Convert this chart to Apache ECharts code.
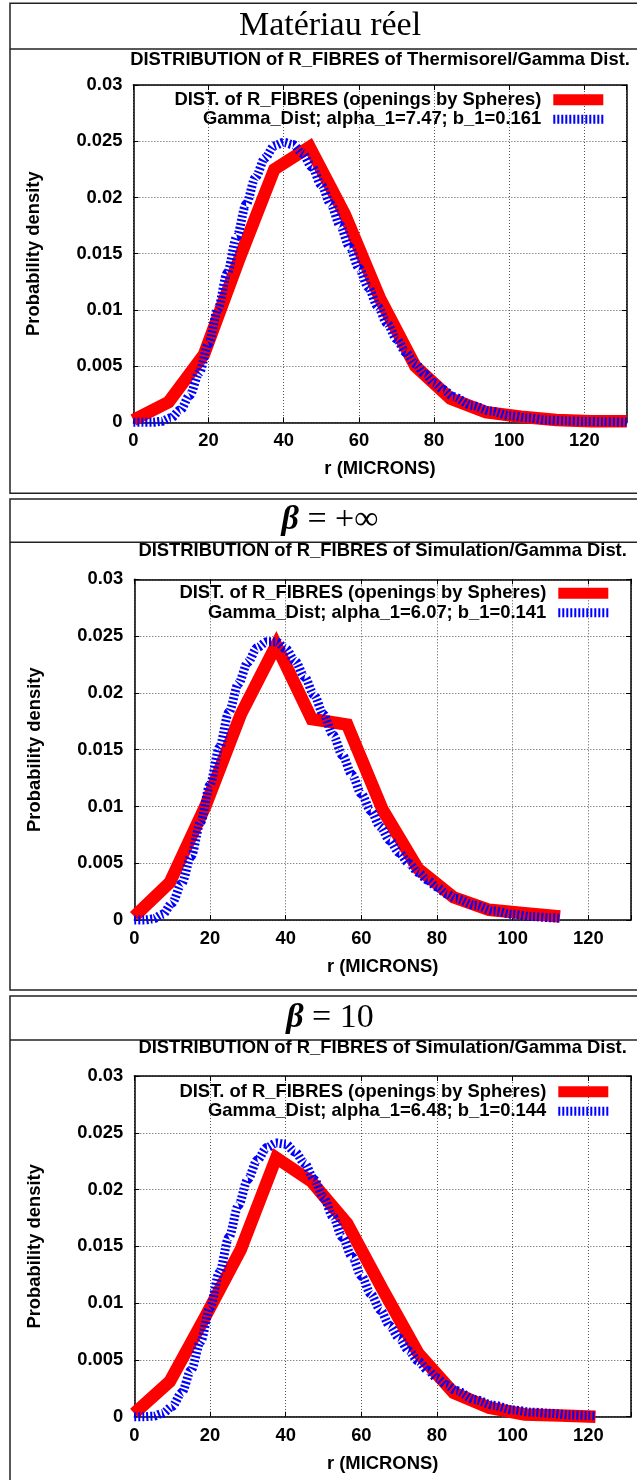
<!DOCTYPE html>
<html><head><meta charset="utf-8">
<script src="https://cdn.jsdelivr.net/npm/echarts@6/dist/echarts.min.js"></script>
<style>html,body{margin:0;padding:0;background:#fff}#c{width:637px;height:1480px}</style>
</head><body><div id="c"></div>
<script>
// ---------- data ----------
const panelTitles = ['Matériau réel', '{b|β} = +∞', '{b|β} = 10'];
const subTitles = [
  'DISTRIBUTION of R_FIBRES of Thermisorel/Gamma Dist.',
  'DISTRIBUTION of R_FIBRES of Simulation/Gamma Dist.',
  'DISTRIBUTION of R_FIBRES of Simulation/Gamma Dist.'
];
const redName = 'DIST. of R_FIBRES (openings by Spheres)';
const blueNames = [
  'Gamma_Dist; alpha_1=7.47; b_1=0.161',
  'Gamma_Dist; alpha_1=6.07; b_1=0.141',
  'Gamma_Dist; alpha_1=6.48; b_1=0.144'
];
const xName = 'r (MICRONS)';
const yName = 'Probability density';
const xTicks = [0, 20, 40, 60, 80, 100, 120];
const yTicks = [0, 0.005, 0.01, 0.015, 0.02, 0.025, 0.03];
const xMax = 131.25;

// measured distribution (red), sampled radii
const rHist = [0, 9.375, 18.75, 28.125, 37.5, 46.875, 56.25, 65.625, 75, 84.375, 93.75, 103.125, 112.5, 121.875, 131.25];
const hist1 = [0.0002, 0.0018, 0.0060, 0.0145, 0.0225, 0.0245, 0.0185, 0.0110, 0.0050, 0.0021, 0.0009, 0.0005, 0.0002, 0.0001, 0.0001];
const hist2 = [0.0003, 0.0033, 0.0100, 0.0181, 0.0242, 0.0177, 0.0172, 0.0097, 0.0045, 0.0020, 0.0009, 0.0006, 0.0003];
const hist3 = [0.0003, 0.0031, 0.0088, 0.0147, 0.0228, 0.0207, 0.0170, 0.0112, 0.0056, 0.0021, 0.0008, 0.0002, 0.0001, 0.0000];

// fitted gamma curves (blue)
const rGamma1 = [0, 2.5, 5, 7.5, 10, 12.5, 15, 17.5, 20, 22.5, 25, 27.5, 30, 32.5, 35, 37.5, 40, 42.5, 45, 47.5, 50, 52.5, 55, 57.5, 60, 62.5, 65, 67.5, 70, 72.5, 75, 77.5, 80, 82.5, 85, 90, 95, 100, 105, 110, 115, 120, 125, 131.25];
const gamma1 = [0, 0, 0.00001, 0.00009, 0.0004, 0.0011, 0.0024, 0.0044, 0.0070, 0.0101, 0.0133, 0.0165, 0.0194, 0.0218, 0.0235, 0.0246, 0.0249, 0.0247, 0.0239, 0.0227, 0.0211, 0.0194, 0.0175, 0.0156, 0.0137, 0.0120, 0.0103, 0.0088, 0.0074, 0.0062, 0.0052, 0.0043, 0.0035, 0.0029, 0.0023, 0.0015, 0.0010, 0.0006, 0.0004, 0.0002, 0.00013, 0.00008, 0.00005, 0.00002];
const rGamma2 = [0, 2.5, 5, 7.5, 10, 12.5, 15, 17.5, 20, 22.5, 25, 27.5, 30, 32.5, 35, 37.5, 40, 42.5, 45, 47.5, 50, 52.5, 55, 57.5, 60, 62.5, 65, 67.5, 70, 72.5, 75, 77.5, 80, 82.5, 85, 90, 95, 100, 105, 110, 112.5];
const gamma2 = [0, 0, 0.0001, 0.0005, 0.0015, 0.0032, 0.0056, 0.0086, 0.0119, 0.0152, 0.0183, 0.0208, 0.0227, 0.0240, 0.0245, 0.0245, 0.0239, 0.0228, 0.0214, 0.0198, 0.0181, 0.0163, 0.0145, 0.0128, 0.0111, 0.0096, 0.0082, 0.0070, 0.0059, 0.0050, 0.0042, 0.0035, 0.0029, 0.0023, 0.0019, 0.0013, 0.0008, 0.0005, 0.0003, 0.0002, 0.00016];
const rGamma3 = [0, 2.5, 5, 7.5, 10, 12.5, 15, 17.5, 20, 22.5, 25, 27.5, 30, 32.5, 35, 37.5, 40, 42.5, 45, 47.5, 50, 52.5, 55, 57.5, 60, 62.5, 65, 67.5, 70, 72.5, 75, 77.5, 80, 82.5, 85, 90, 95, 100, 105, 110, 115, 120, 121.875];
const gamma3 = [0, 0, 0.00004, 0.0003, 0.0009, 0.0021, 0.0041, 0.0066, 0.0096, 0.0127, 0.0158, 0.0186, 0.0209, 0.0226, 0.0237, 0.0241, 0.0240, 0.0233, 0.0223, 0.0209, 0.0193, 0.0176, 0.0158, 0.0141, 0.0124, 0.0108, 0.0094, 0.0080, 0.0069, 0.0058, 0.0049, 0.0041, 0.0034, 0.0028, 0.0023, 0.0015, 0.0010, 0.0006, 0.0004, 0.0003, 0.00015, 0.0001, 0.00008];

// ---------- layout / style ----------
const FONT = 'Liberation Sans';
const FS = 18.4;
const txt = {fontFamily: FONT, fontWeight: 'bold', fontSize: FS, color: '#000'};
const grids = [
  {left: 133.4, top: 85, width: 493.3, height: 337.3},
  {left: 134.3, top: 579.3, width: 496.7, height: 340.7},
  {left: 134.3, top: 1076, width: 496.7, height: 340.7}
];
const boxes = [
  {y0: 3.3, y1: 493.3, line: 49, tY: 26.5},
  {y0: 499, y1: 990, line: 542.3, tY: 520.5},
  {y0: 996, y1: 1490, line: 1040, tY: 1018}
];
const subY = [59.7, 551, 1047.5];
const legendPos = [{right: 33.7, top: 90}, {right: 28.7, top: 583.5}, {right: 28.7, top: 1082}];
const hists = [hist1, hist2, hist3];
const rGammas = [rGamma1, rGamma2, rGamma3];
const gammas = [gamma1, gamma2, gamma3];

const stripePath = (() => {
  let p = 'path://';
  for (let i = 0; i < 13; i++) p += 'M' + (i * 4) + ',0h2v9h-2z';
  return p;
})();

const xAxes = [], yAxes = [], series = [], legends = [], graphics = [];
const splitStyle = {show: true, lineStyle: {color: '#555', width: 1, type: [1, 2]}};
const axLine = {show: true, onZero: false, lineStyle: {color: '#000', width: 1.5}};
const tick = {show: true, inside: true, length: 5, lineStyle: {color: '#000', width: 1}};

grids.forEach((g, p) => {
  xAxes.push({
    type: 'value', gridIndex: p, position: 'bottom', min: 0, max: xMax, interval: 20,
    name: xName, nameLocation: 'middle', nameGap: 38, nameTextStyle: txt,
    axisLine: axLine, axisTick: tick, splitLine: splitStyle,
    axisLabel: Object.assign({margin: 10, formatter: v => xTicks.includes(v) ? String(v) : ''}, txt)
  });
  xAxes.push({
    type: 'value', gridIndex: p, position: 'top', min: 0, max: xMax, interval: 20,
    axisLine: axLine, axisTick: tick, splitLine: {show: false}, axisLabel: {show: false}
  });
  yAxes.push({
    type: 'value', gridIndex: p, position: 'left', min: 0, max: 0.03, interval: 0.005,
    name: yName, nameLocation: 'middle', nameGap: 90, nameRotate: 90, nameTextStyle: txt,
    axisLine: axLine, axisTick: tick, splitLine: splitStyle,
    axisLabel: Object.assign({margin: 11, formatter: v => {
      const t = yTicks.find(y => Math.abs(y - v) < 1e-9);
      return t === undefined ? '' : String(t);
    }}, txt)
  });
  yAxes.push({
    type: 'value', gridIndex: p, position: 'right', min: 0, max: 0.03, interval: 0.005,
    axisLine: axLine, axisTick: tick, splitLine: {show: false}, axisLabel: {show: false}
  });
  const h = hists[p];
  series.push({
    name: redName, type: 'line', xAxisIndex: 2 * p, yAxisIndex: 2 * p,
    data: h.map((v, i) => [rHist[i], v]), showSymbol: false, symbol: 'none', clip: false,
    color: '#ff0000', itemStyle: {color: '#ff0000', borderWidth: 0},
    lineStyle: {color: '#ff0000', width: 12.5, join: 'miter', cap: 'butt'}, z: 3
  });
  series.push({
    name: blueNames[p], type: 'line', xAxisIndex: 2 * p, yAxisIndex: 2 * p,
    data: gammas[p].map((v, i) => [rGammas[p][i], v]), showSymbol: false, symbol: 'none', clip: false,
    smooth: 0.3, smoothMonotone: 'x',
    color: '#0000ff', itemStyle: {color: '#0000ff', borderWidth: 0},
    lineStyle: {color: '#0000ff', width: 9, type: [2, 2], cap: 'butt'}, z: 4
  });
  legends.push(Object.assign({
    orient: 'vertical', align: 'right', itemWidth: 50, itemHeight: 11, itemGap: 0,
    padding: 0, selectedMode: false, itemStyle: {borderWidth: 0},
    textStyle: Object.assign({lineHeight: 19.5, padding: [0, 7, 0, 0]}, txt),
    data: [
      {name: redName, icon: 'rect', itemStyle: {color: '#ff0000', borderWidth: 0}},
      {name: blueNames[p], icon: stripePath, itemStyle: {color: '#0000ff', borderWidth: 0}}
    ]
  }, legendPos[p]));

  const b = boxes[p];
  graphics.push({type: 'rect', shape: {x: 10, y: b.y0, width: 640, height: b.y1 - b.y0},
    style: {fill: 'none', stroke: '#222', lineWidth: 1.5}, silent: true});
  graphics.push({type: 'line', shape: {x1: 10, y1: b.line, x2: 650, y2: b.line},
    style: {stroke: '#222', lineWidth: 1.5}, silent: true});
  graphics.push({type: 'text', x: 330, y: b.tY, silent: true, style: {
    text: panelTitles[p], fontFamily: 'Liberation Serif', fontSize: 34, fill: '#000',
    align: 'center', verticalAlign: 'middle',
    rich: {b: {fontFamily: 'Liberation Serif', fontSize: 34, fontStyle: 'italic', fontWeight: 'bold', fill: '#000'}}
  }});
  graphics.push({type: 'text', x: g.left + g.width / 2, y: subY[p], silent: true, style: {
    text: subTitles[p], fontFamily: FONT, fontWeight: 'bold', fontSize: FS, fill: '#000',
    align: 'center', verticalAlign: 'middle'
  }});
});

const chart = echarts.init(document.getElementById('c'), null, {renderer: 'canvas'});
chart.setOption({
  animation: false,
  backgroundColor: '#fff',
  grid: grids.map(g => Object.assign({containLabel: false}, g)),
  xAxis: xAxes, yAxis: yAxes, series: series, legend: legends,
  graphic: graphics
});
</script></body></html>
